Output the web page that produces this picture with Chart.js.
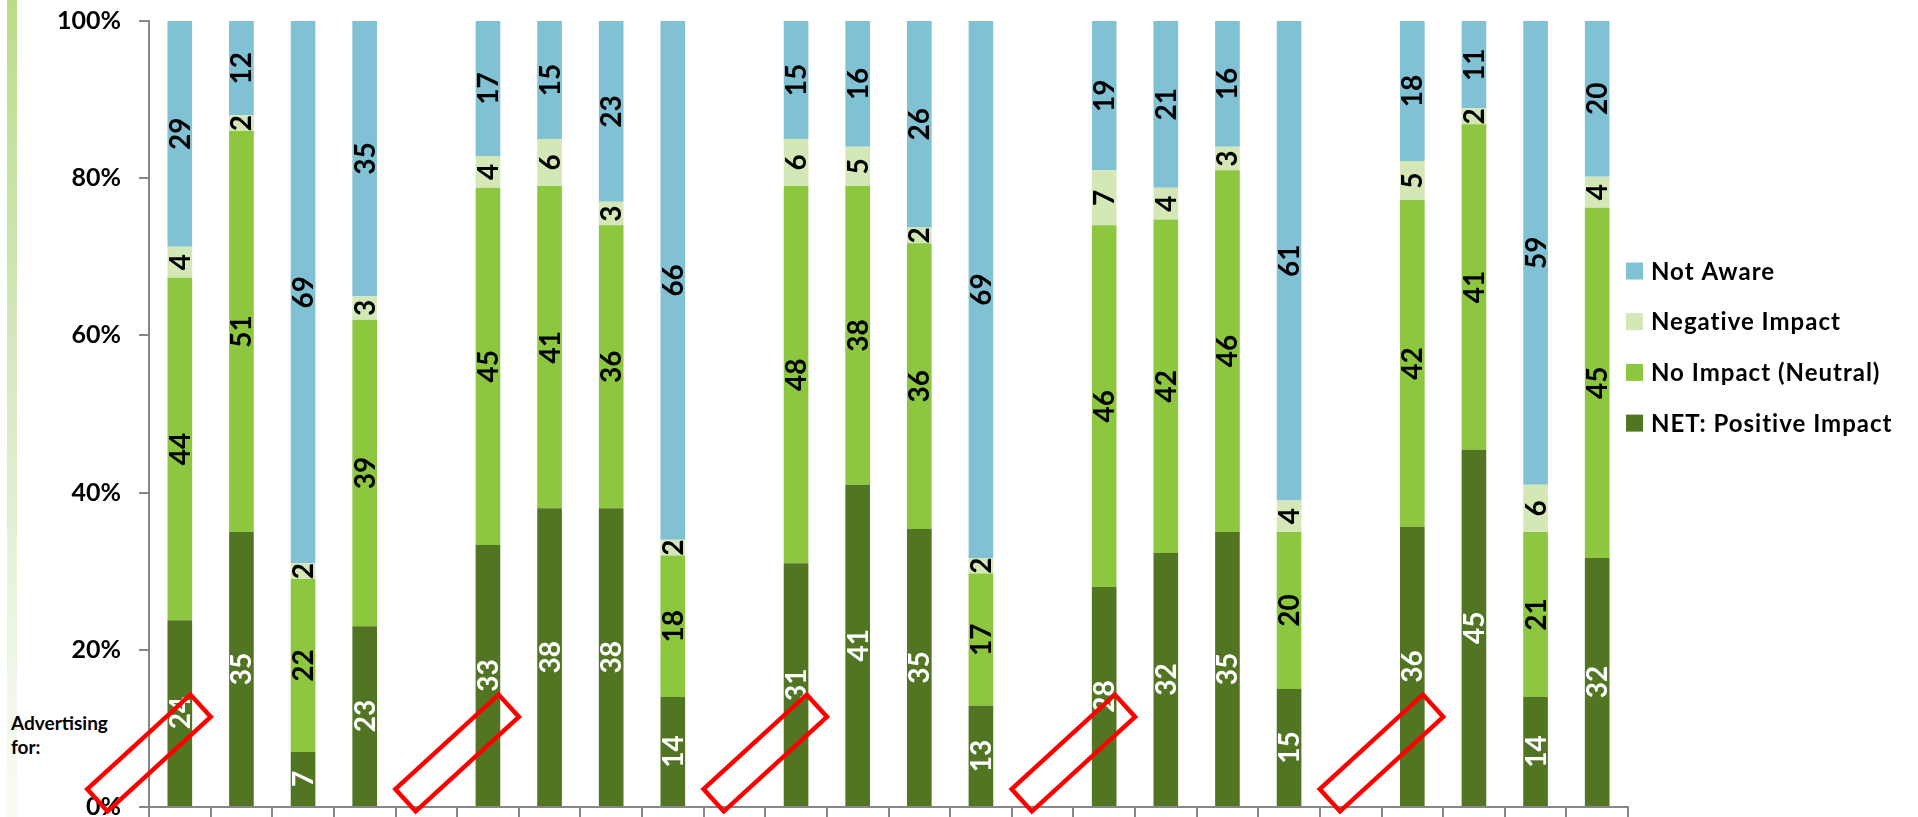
<!DOCTYPE html>
<html>
<head>
<meta charset="utf-8">
<title>Advertising impact</title>
<script src="https://cdn.jsdelivr.net/npm/chart.js@4.4.0/dist/chart.umd.min.js"></script>
<style>
    html, body { margin: 0; padding: 0; background: #fff; }
    .wrap { position: relative; width: 1918px; height: 817px; overflow: hidden; }
    .side-bar {
        position: absolute; left: 7px; top: 0; width: 10px; height: 817px;
        background: linear-gradient(to bottom, #bcdc8a 0%, #d3e7bb 40%, #ebf4e1 75%, #f9fcf5 100%);
    }
    .axis-note {
        position: absolute; left: 11px; top: 711px;
        font: bold 19px Lato, sans-serif; line-height: 24px; color: #000;
    }
    canvas { position: absolute; left: 0; top: 0; }
</style>
</head>
<body>
<div class="wrap">
    <div class="side-bar"></div>
    <div class="axis-note">Advertising<br>for:</div>
    <canvas id="impactChart" width="1918" height="817"></canvas>
</div>
<script>
// Chart data (5 groups of 4 bars)
const groupCount = 5;
const barsPerGroup = 4;

const positiveImpact = [24, 35, 7, 23,  33, 38, 38, 14,  31, 41, 35, 13,  28, 32, 35, 15,  36, 45, 14, 32];
const noImpact       = [44, 51, 22, 39, 45, 41, 36, 18,  48, 38, 36, 17,  46, 42, 46, 20,  42, 41, 21, 45];
const negativeImpact = [4, 2, 2, 3,     4, 6, 3, 2,      6, 5, 2, 2,      7, 4, 3, 4,      5, 2, 6, 4];
const notAware       = [29, 12, 69, 35, 17, 15, 23, 66,  15, 16, 26, 69,  19, 21, 16, 61,  18, 11, 59, 20];

const seriesNames = ['NET: Positive Impact', 'No Impact (Neutral)', 'Negative Impact', 'Not Aware'];
const seriesValues = [positiveImpact, noImpact, negativeImpact, notAware];
const seriesColors = ['#527524', '#8dc63f', '#d3e8b6', '#80c1d3'];
const labelColors = ['#ffffff', '#000000', '#000000', '#000000'];

const yTickValues = [0, 20, 40, 60, 80, 100];

// Build slots: each group of bars followed by an empty gap slot
function buildSlots(values) {
    const out = [];
    for (let g = 0; g < groupCount; g++) {
        for (let b = 0; b < barsPerGroup; b++) {
            out.push(values[g * barsPerGroup + b]);
        }
        if (g < groupCount - 1) out.push(null);
    }
    return out;
}

const barTotals = positiveImpact.map((v, i) => v + noImpact[i] + negativeImpact[i] + notAware[i]);
const slotLabels = buildSlots(barTotals).map(() => '');

const datasets = seriesValues.map((values, s) => ({
    label: seriesNames[s],
    data: buildSlots(values.map((v, i) => v / barTotals[i] * 100)),
    rawValues: buildSlots(values),
    backgroundColor: seriesColors[s],
    borderWidth: 0,
    barPercentage: 0.4,
    categoryPercentage: 1.0
}));

// Values written vertically inside each segment
const segmentLabels = {
    id: 'segmentLabels',
    afterDatasetsDraw(chart) {
        const ctx = chart.ctx;
        ctx.save();
        ctx.font = 'bold 28px Lato';
        ctx.textAlign = 'center';
        ctx.textBaseline = 'alphabetic';
        chart.data.datasets.forEach((ds, s) => {
            const meta = chart.getDatasetMeta(s);
            meta.data.forEach((bar, i) => {
                const raw = ds.rawValues[i];
                if (raw == null) return;
                ctx.save();
                ctx.translate(bar.x, (bar.y + bar.base) / 2);
                ctx.rotate(-Math.PI / 2);
                ctx.fillStyle = labelColors[s];
                ctx.fillText(String(raw), 0, 10);
                ctx.restore();
            });
        });
        ctx.restore();
    }
};

// Legend on the right, top entry = top of the stack
const sideLegend = {
    id: 'sideLegend',
    afterDraw(chart) {
        const ctx = chart.ctx;
        const x = chart.chartArea.right - 2;
        ctx.save();
        ctx.font = 'bold 24px Lato';
        ctx.letterSpacing = '1px';
        ctx.textAlign = 'left';
        ctx.textBaseline = 'alphabetic';
        for (let k = 0; k < seriesNames.length; k++) {
            const s = seriesNames.length - 1 - k;
            const cy = 271 + k * 50.7;
            ctx.fillStyle = seriesColors[s];
            ctx.fillRect(x, cy - 8.5, 17, 17);
            ctx.fillStyle = '#000';
            ctx.fillText(seriesNames[s], x + 25, cy + 8.5);
        }
        ctx.restore();
    }
};

// Red outline boxes over the first bar of every group
const redBoxes = {
    id: 'redBoxes',
    afterDraw(chart) {
        const ctx = chart.ctx;
        const xs = chart.scales.x;
        const ys = chart.scales.y;
        const step = xs.width / xs.ticks.length;
        ctx.save();
        ctx.strokeStyle = '#ff0000';
        ctx.lineWidth = 4.5;
        for (let g = 0; g < groupCount; g++) {
            const idx = g * (barsPerGroup + 1);
            const cx = xs.getPixelForValue(idx) - step / 2;
            const cy = ys.bottom - 54;
            ctx.save();
            ctx.translate(cx, cy);
            ctx.rotate(-42.5 * Math.PI / 180);
            ctx.strokeRect(-70, -15, 140, 30);
            ctx.restore();
        }
        ctx.restore();
    }
};

const axisGrey = '#868686';

const ctx = document.getElementById('impactChart').getContext('2d');
new Chart(ctx, {
    type: 'bar',
    data: { labels: slotLabels, datasets: datasets },
    options: {
        responsive: false,
        animation: false,
        layout: { padding: { top: 21, right: 290, bottom: 0, left: 0 } },
        plugins: {
            legend: { display: false },
            tooltip: { enabled: false }
        },
        scales: {
            x: {
                stacked: true,
                grid: { offset: true, drawOnChartArea: false, drawTicks: true, tickLength: 10, color: axisGrey, lineWidth: 2 },
                border: { color: axisGrey, width: 2 },
                ticks: { display: false },
                afterFit: s => { s.height = 10; s.paddingLeft = 0; s.paddingRight = 0; }
            },
            y: {
                stacked: true,
                min: 0,
                max: 100,
                afterBuildTicks: s => { s.ticks = yTickValues.map(v => ({ value: v })); },
                ticks: {
                    callback: v => v + '%',
                    font: { family: 'Lato', size: 25, weight: 'bold' },
                    color: '#000',
                    padding: 18
                },
                grid: { drawOnChartArea: false, tickLength: 10, color: axisGrey, lineWidth: 2 },
                border: { color: axisGrey, width: 2 },
                afterFit: s => { s.width = 149; s.paddingTop = 0; s.paddingBottom = 0; }
            }
        }
    },
    plugins: [segmentLabels, redBoxes, sideLegend]
});
</script>
</body>
</html>
